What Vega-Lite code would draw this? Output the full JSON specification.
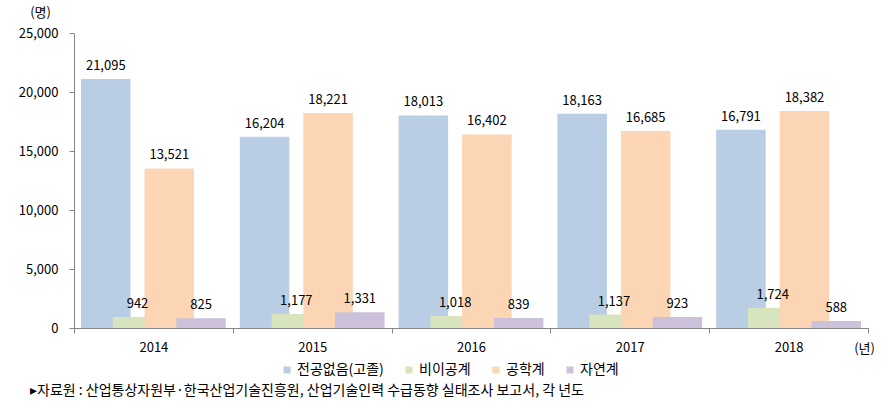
{
  "$schema": "https://vega.github.io/schema/vega-lite/v6.json",
  "autosize": "none",
  "padding": {"left": 74, "top": 33, "right": 25, "bottom": 87},
  "width": 794,
  "height": 295,
  "background": "white",
  "config": {
    "view": {"stroke": null},
    "font": "Noto Sans CJK KR",
    "axis": {"grid": false, "domainColor": "#868686", "tickColor": "#868686", "labelColor": "#000000", "labelFont": "Noto Sans CJK KR", "titleFont": "Noto Sans CJK KR"},
    "legend": {"labelFont": "Noto Sans CJK KR"}
  },
  "title": {
    "text": "▸자료원 : 산업통상자원부·한국산업기술진흥원, 산업기술인력 수급동향 실태조사 보고서, 각 년도",
    "orient": "bottom",
    "anchor": "start",
    "frame": "group",
    "dx": -44,
    "offset": 7,
    "fontSize": 14,
    "fontWeight": "normal",
    "color": "#000000",
    "font": "Noto Sans CJK KR"
  },
  "data": {
    "values": [
      {"year": "2014", "series": "전공없음(고졸)", "value": 21095},
      {"year": "2014", "series": "비이공계", "value": 942},
      {"year": "2014", "series": "공학계", "value": 13521},
      {"year": "2014", "series": "자연계", "value": 825},
      {"year": "2015", "series": "전공없음(고졸)", "value": 16204},
      {"year": "2015", "series": "비이공계", "value": 1177},
      {"year": "2015", "series": "공학계", "value": 18221},
      {"year": "2015", "series": "자연계", "value": 1331},
      {"year": "2016", "series": "전공없음(고졸)", "value": 18013},
      {"year": "2016", "series": "비이공계", "value": 1018},
      {"year": "2016", "series": "공학계", "value": 16402},
      {"year": "2016", "series": "자연계", "value": 839},
      {"year": "2017", "series": "전공없음(고졸)", "value": 18163},
      {"year": "2017", "series": "비이공계", "value": 1137},
      {"year": "2017", "series": "공학계", "value": 16685},
      {"year": "2017", "series": "자연계", "value": 923},
      {"year": "2018", "series": "전공없음(고졸)", "value": 16791},
      {"year": "2018", "series": "비이공계", "value": 1724},
      {"year": "2018", "series": "공학계", "value": 18382},
      {"year": "2018", "series": "자연계", "value": 588}
    ]
  },
  "encoding": {
    "x": {
      "field": "year", "type": "nominal",
      "scale": {"type": "band", "paddingInner": 0, "paddingOuter": 0},
      "axis": {
        "title": "(년)", "titleAngle": 0, "titleX": 790, "titleY": 20, "titleBaseline": "middle", "titleAlign": "center",
        "titleFontSize": 13, "titleFontWeight": "normal", "titleColor": "#000000",
        "labelAngle": 0, "labelFontSize": 13, "labelPadding": 8, "tickSize": 5, "tickBand": "extent"
      }
    },
    "xOffset": {
      "field": "series", "type": "nominal",
      "scale": {"type": "point", "padding": 1.147, "domain": ["전공없음(고졸)", "비이공계", "공학계", "자연계"]}
    },
    "y": {
      "field": "value", "type": "quantitative",
      "scale": {"domain": [0, 25000], "nice": false},
      "axis": {
        "values": [0, 5000, 10000, 15000, 20000, 25000], "format": ",.0f",
        "title": "(명)", "titleAngle": 0, "titleX": -34, "titleY": -21, "titleBaseline": "middle", "titleAlign": "center",
        "titleFontSize": 13, "titleFontWeight": "normal", "titleColor": "#000000",
        "labelFontSize": 13, "labelPadding": 11, "tickSize": 5
      }
    }
  },
  "layer": [
    {
      "mark": {"type": "bar", "width": 49.5},
      "encoding": {
        "color": {
          "field": "series", "type": "nominal",
          "scale": {"domain": ["전공없음(고졸)", "비이공계", "공학계", "자연계"], "range": ["#B9CDE5", "#D7E4BD", "#FCD5B5", "#CCC1DA"]},
          "legend": {
            "title": null, "orient": "none", "direction": "horizontal", "legendX": 206, "legendY": 330,
            "symbolType": "square", "symbolSize": 49, "symbolStrokeWidth": 0, "labelFontSize": 14, "labelColor": "#000000",
            "labelOffset": 3, "columnPadding": 18
          }
        }
      }
    },
    {
      "mark": {"type": "text", "baseline": "middle", "dy": -13, "fontSize": 13, "color": "#000000"},
      "encoding": {
        "text": {"field": "value", "type": "quantitative", "format": ",.0f"}
      }
    }
  ]
}
